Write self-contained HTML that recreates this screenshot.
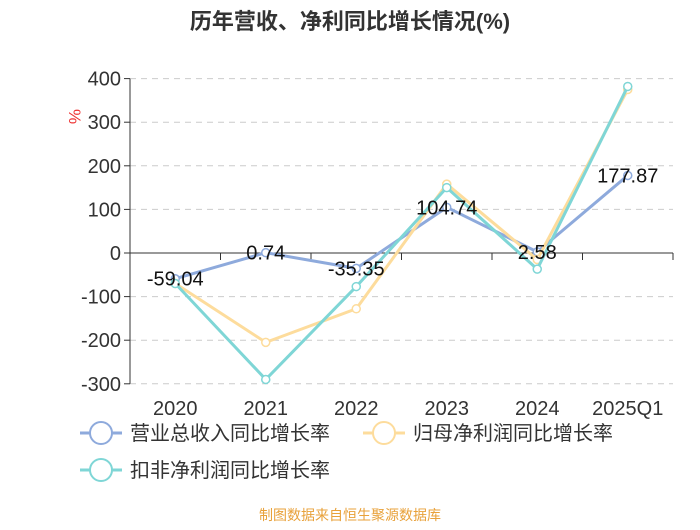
<!DOCTYPE html>
<html><head><meta charset="utf-8"><style>
body{margin:0;background:#fff;width:700px;height:525px;overflow:hidden;font-family:"Liberation Sans","Noto Sans CJK SC",sans-serif}
</style></head><body>
<svg width="700" height="525" xmlns="http://www.w3.org/2000/svg">
<text x="350" y="29" text-anchor="middle" font-size="22" font-weight="bold" fill="#333" font-family="Liberation Sans,Noto Sans CJK SC,sans-serif">历年营收、净利同比增长情况(%)</text>
<text x="68" y="120" fill="#e33" font-size="17" transform="rotate(90 74 115)">%</text>
<g id="grid"></g><g id="axes"></g><g id="series"></g><g id="labels"></g>
<text x="350" y="520" text-anchor="middle" font-size="14" fill="#e8a13a" font-family="Liberation Sans,Noto Sans CJK SC,sans-serif">制图数据来自恒生聚源数据库</text>
</svg>
<script>
const categories=["2020","2021","2022","2023","2024","2025Q1"];
const yTicks=[400,300,200,100,0,-100,-200,-300];
const revenue=[-59.04,0.74,-35.35,104.74,2.58,177.87];
const netProfit=[-70,-205,-128,158,-15,375];
const deducted=[-70,-290,-77,150,-37,382];
const revenueLabels=["-59.04","0.74","-35.35","104.74","2.58","177.87"];
const NS="http://www.w3.org/2000/svg";
const L=130,R=673,band=(R-L)/categories.length;
const x=i=>L+band*(i+0.5);
const y=v=>253-v*0.436;
function mk(t,a,p){const e=document.createElementNS(NS,t);for(const k in a)e.setAttribute(k,a[k]);p.appendChild(e);return e;}
const grid=document.getElementById('grid'),axes=document.getElementById('axes'),ser=document.getElementById('series'),lab=document.getElementById('labels');
yTicks.forEach(v=>{
 if(v!==0){const g=mk('line',{x1:L,x2:R,y1:y(v),y2:y(v),stroke:'#ccc','stroke-dasharray':'6,5'},grid);}
 mk('line',{x1:L-6,x2:L,y1:y(v),y2:y(v),stroke:'#333'},axes);
 const t=mk('text',{x:L-9,y:y(v)+7,'text-anchor':'end','font-size':20,fill:'#333'},axes);t.textContent=v;
 
});
mk('line',{x1:L,x2:L,y1:y(400),y2:y(-300),stroke:'#333'},axes);
mk('line',{x1:L,x2:R,y1:y(0),y2:y(0),stroke:'#333'},axes);
for(let i=0;i<=categories.length;i++)mk('line',{x1:L+band*i,x2:L+band*i,y1:y(0),y2:y(0)+7,stroke:'#333'},axes);
categories.forEach((c,i)=>{const t=mk('text',{x:x(i),y:415,'text-anchor':'middle','font-size':20,fill:'#333'},axes);t.textContent=c;
 });
function line(data,color,name){
 const g=mk('g',{},ser);
 mk('polyline',{points:data.map((v,i)=>x(i)+','+y(v)).join(' '),fill:'none',stroke:color,'stroke-width':3},g);
 data.forEach((v,i)=>{const c=mk('circle',{cx:x(i),cy:y(v),r:4,fill:'#fff',stroke:color,'stroke-width':1.5},g);
  });
}
line(revenue,'#8eaadc','revenue-line');
line(netProfit,'#fddc9c','net-profit-line');
line(deducted,'#7fd6d6','deducted-line');
revenue.forEach((v,i)=>{const t=mk('text',{x:x(i),y:y(v)+7,'text-anchor':'middle','font-size':20,fill:'#111'},lab);t.textContent=revenueLabels[i];
 });
const legend=[["营业总收入同比增长率",'#8eaadc',80,433],["归母净利润同比增长率",'#fddc9c',363,433],["扣非净利润同比增长率",'#7fd6d6',80,470]];
legend.forEach(([n,c,lx,ly])=>{const g=mk('g',{},lab);
 mk('line',{x1:lx,x2:lx+42,y1:ly,y2:ly,stroke:c,'stroke-width':3},g);
 mk('circle',{cx:lx+21,cy:ly,r:11,fill:'#fff',stroke:c,'stroke-width':2},g);
 const t=mk('text',{x:lx+50,y:ly+7,'font-size':20,fill:'#333'},g);t.textContent=n;});
</script>
</body></html>
